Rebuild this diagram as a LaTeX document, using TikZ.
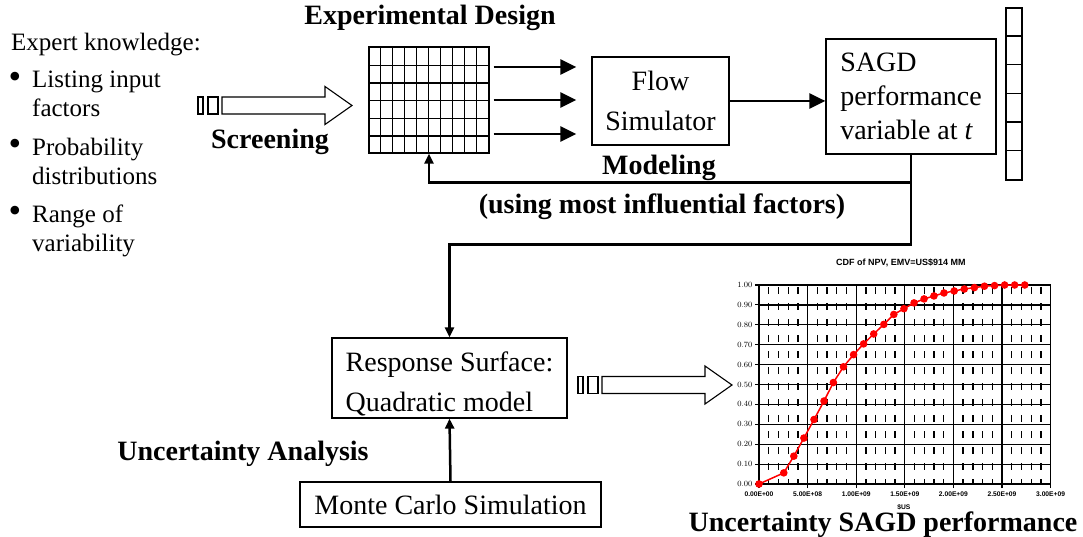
\documentclass[tikz,border=0pt]{standalone}
\usepackage{fontspec}
\setmainfont{Liberation Serif}
\newfontfamily\chartfont{Liberation Sans}
\usetikzlibrary{arrows.meta,positioning}

\tikzset{
  box/.style={draw, line width=1.2pt, fill=white, inner sep=0pt, font=\fontsize{28}{40}\selectfont},
  label/.style={font=\fontsize{28}{34}\selectfont\bfseries, anchor=base},
  expert/.style={font=\fontsize{25}{29}\selectfont, anchor=north west, align=left, inner sep=0pt},
  bullet/.style={font=\fontsize{36}{36}\selectfont, anchor=base, inner sep=0pt},
  bigarrow/.style={line width=2.8pt, -{Triangle[length=16pt,width=15pt]}},
  smallarrow/.style={line width=2.5pt, -{Triangle[length=10pt,width=9pt]}},
  fat arrow/.pic={
    \draw[line width=1.1pt] (0,-8.5) rectangle (5,8.5);
    \draw[line width=1.1pt] (10,-8.5) rectangle (20,8.5);
    \draw[line width=1.1pt] (24,-8.5) -- (127,-8.5) -- (127,-19) -- (154,0) -- (127,19) -- (127,8.5) -- (24,8.5) -- cycle;
  },
}

\begin{document}
\begin{tikzpicture}[x=1pt, y=-1pt]
\useasboundingbox (0,0) rectangle (1083,537);

\node[expert] (expert) at (11,33) {Expert knowledge:};
\node[bullet] (bul1) at (15,89) {\textbullet};
\node[expert] (item1) at (32,71) {Listing input\\factors};
\node[bullet] (bul2) at (15,156) {\textbullet};
\node[expert] (item2) at (32,138) {Probability\\distributions};
\node[bullet] (bul3) at (15,223) {\textbullet};
\node[expert] (item3) at (32,205) {Range of\\variability};

\node[label] (designlabel) at (430,25) {Experimental Design};
\node[label] (screening) at (270,149) {Screening};
\node[label] (modeling) at (659,175) {Modeling};
\node[label] (influential) at (662,214) {(using most influential factors)};
\node[label] (ualabel) at (243,460) {Uncertainty Analysis};
\node[label] (perflabel) at (883,531) {Uncertainty SAGD performance};

\node[draw, line width=1.2pt, minimum width=120pt, minimum height=106pt, inner sep=0pt] (design) at (429,100) {};
\draw[line width=1.3pt, xstep=12pt, ystep=17.667pt, shift={(design.south west)}] (0pt,0pt) grid (120pt,106pt);

\node[box, minimum width=137pt, minimum height=88pt, align=center] (flow) at (660.5,101) {Flow\\Simulator};
\node[box, minimum width=170pt, minimum height=115pt, align=left, font=\fontsize{28}{34}\selectfont] (sagd) at (911,96.5) {SAGD\\performance\\variable at \textit{t}};
\node[box, minimum width=235pt, minimum height=80pt, align=left] (response) at (449.5,378) {\rule{0pt}{31pt}Response Surface:\\Quadratic model};
\node[box, minimum width=301pt, minimum height=45pt] (monte) at (450.5,504.5) {Monte Carlo Simulation};

\node[draw, line width=1.2pt, minimum width=16pt, minimum height=172pt, inner sep=0pt] (strip) at (1014,94) {};
\foreach \k in {1,...,5}
  \draw[line width=1.2pt] ([yshift=-\k*28.667pt]strip.north west) -- ([yshift=-\k*28.667pt]strip.north east);

\coordinate (d1) at ([yshift=33pt]design.east);
\coordinate (d2) at (design.east);
\coordinate (d3) at ([yshift=-34pt]design.east);
\foreach \d in {d1,d2,d3}
  \draw[bigarrow, shorten <=4pt, shorten >=15pt] (\d) -- (\d -| flow.west);
\draw[bigarrow] (flow.east) -- (flow.east -| sagd.west);
\draw[smallarrow] (sagd.south) |- ([yshift=-29pt]design.south) -- (design.south);
\draw[smallarrow] (sagd.south) |- ([yshift=93pt]response.north) -- (response.north);
\draw[smallarrow] (monte.north) -- (response.south);

\pic at (198,105.5) {fat arrow};
\pic at (578,385) {fat arrow};

\begin{scope}[shift={(759,484)}, x=97.2pt, y=199pt, font=\chartfont\bfseries]
  \foreach \major in {0,0.5,...,2.5}
    \foreach \minor in {0.1,0.2,0.3,0.4}
      \draw[line width=1.3pt, dash pattern=on 7pt off 9pt, dash phase=14pt] (\major+\minor,1) -- (\major+\minor,0);
  \foreach \yy in {0,0.1,...,1.01} {
    \draw[line width=1.2pt] (-4pt,\yy) -- (3,\yy);
    \node[anchor=east, inner sep=1pt, font=\chartfont\bfseries\fontsize{8}{9}\selectfont] at (-0.055,\yy) {\pgfmathprintnumber[fixed, fixed zerofill, precision=2]{\yy}};
  }
  \draw[line width=2pt] (0,0.9) -- (3,0.9);
  \foreach \xx/\lab in {0/0.00E+00, 0.5/5.00E+08, 1/1.00E+09, 1.5/1.50E+09, 2/2.00E+09, 2.5/2.50E+09, 3/3.00E+09} {
    \draw[line width=1.2pt] (\xx,-4pt) -- (\xx,1);
    \node[font=\chartfont\bfseries\fontsize{6.7}{8}\selectfont] at (\xx,-0.05) {\lab};
  }
  \node[font=\chartfont\bfseries\fontsize{6.7}{8}\selectfont] (xaxis) at (1.49,-0.116) {\$US};
  \node[font=\chartfont\bfseries\fontsize{9}{11}\selectfont] (charttitle) at (1.46,1.11) {CDF of NPV, EMV=US\$914 MM};
  \draw[red, line width=1.5pt, mark=*, mark size=3pt] plot coordinates {
    (0,0) (0.255,0.056) (0.358,0.140) (0.462,0.231) (0.566,0.324) (0.669,0.417)
    (0.765,0.510) (0.869,0.589) (0.973,0.650) (1.076,0.704) (1.180,0.754)
    (1.284,0.802) (1.387,0.852) (1.491,0.881) (1.595,0.910) (1.698,0.930)
    (1.800,0.945) (1.903,0.960) (2.008,0.970) (2.112,0.980) (2.216,0.987)
    (2.319,0.994) (2.423,0.997) (2.527,1.0) (2.630,1.0) (2.734,1.0)};
\end{scope}
\end{tikzpicture}
\end{document}
